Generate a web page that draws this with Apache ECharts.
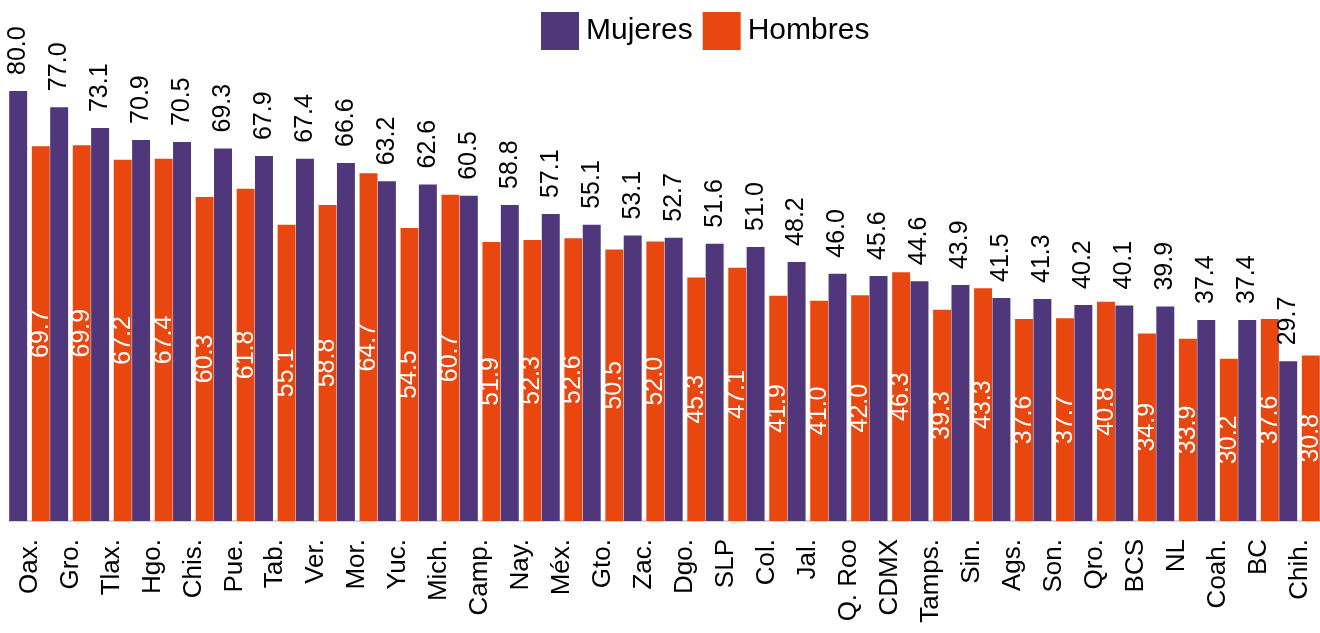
<!DOCTYPE html>
<html>
<head>
<meta charset="utf-8">
<script src="https://cdn.jsdelivr.net/npm/echarts@6/dist/echarts.min.js"></script>
<style>
html,body{margin:0;padding:0;background:#fff;}
#chart{width:1320px;height:633px;}
</style>
</head>
<body>
<div id="chart"></div>
<script>
const categories = ["Oax.","Gro.","Tlax.","Hgo.","Chis.","Pue.","Tab.","Ver.","Mor.","Yuc.","Mich.","Camp.","Nay.","Méx.","Gto.","Zac.","Dgo.","SLP","Col.","Jal.","Q. Roo","CDMX","Tamps.","Sin.","Ags.","Son.","Qro.","BCS","NL","Coah.","BC","Chih."];
const mujeres = [80.0,77.0,73.1,70.9,70.5,69.3,67.9,67.4,66.6,63.2,62.6,60.5,58.8,57.1,55.1,53.1,52.7,51.6,51.0,48.2,46.0,45.6,44.6,43.9,41.5,41.3,40.2,40.1,39.9,37.4,37.4,29.7];
const hombres = [69.7,69.9,67.2,67.4,60.3,61.8,55.1,58.8,64.7,54.5,60.7,51.9,52.3,52.6,50.5,52.0,45.3,47.1,41.9,41.0,42.0,46.3,39.3,43.3,37.6,37.7,40.8,34.9,33.9,30.2,37.6,30.8];

const FONT = "'Liberation Sans', Arial, sans-serif";
const chart = echarts.init(document.getElementById('chart'));
chart.setOption({
  animation: false,
  textStyle: { fontFamily: FONT },
  legend: {
    data: ['Mujeres', 'Hombres'],
    left: 541, top: 12, padding: 0,
    itemWidth: 38, itemHeight: 38, itemGap: 10,
    icon: 'rect',
    textStyle: { fontSize: 30, color: '#000', fontFamily: FONT, padding: [0, 0, 0, 2] }
  },
  grid: { left: 9, right: 0, top: 91, bottom: 112, containLabel: false },
  xAxis: {
    type: 'category',
    data: categories,
    axisLine: { show: true, lineStyle: { color: '#d6d6d6', width: 2 } },
    axisTick: { show: false },
    axisLabel: { interval: 0, rotate: 90, margin: 18, fontSize: 26, color: '#000', fontFamily: FONT }
  },
  yAxis: {
    type: 'value', min: 0, max: 80, show: false,
    splitLine: { show: false }
  },
  series: [
    {
      name: 'Mujeres', type: 'bar', data: mujeres,
      barCategoryGap: '1%', barGap: '26%',
      itemStyle: { color: '#50367A' },
      label: {
        show: true, position: 'top', rotate: 90, align: 'left', verticalAlign: 'middle',
        distance: 16, fontSize: 25, color: '#000', fontFamily: FONT,
        formatter: p => p.value.toFixed(1)
      }
    },
    {
      name: 'Hombres', type: 'bar', data: hombres,
      barCategoryGap: '1%', barGap: '26%',
      itemStyle: { color: '#E84710' },
      label: {
        show: true, position: 'inside', rotate: 90, align: 'center', verticalAlign: 'middle',
        fontSize: 25, color: '#fff', fontFamily: FONT,
        formatter: p => p.value.toFixed(1)
      }
    }
  ]
});
</script>
</body>
</html>
